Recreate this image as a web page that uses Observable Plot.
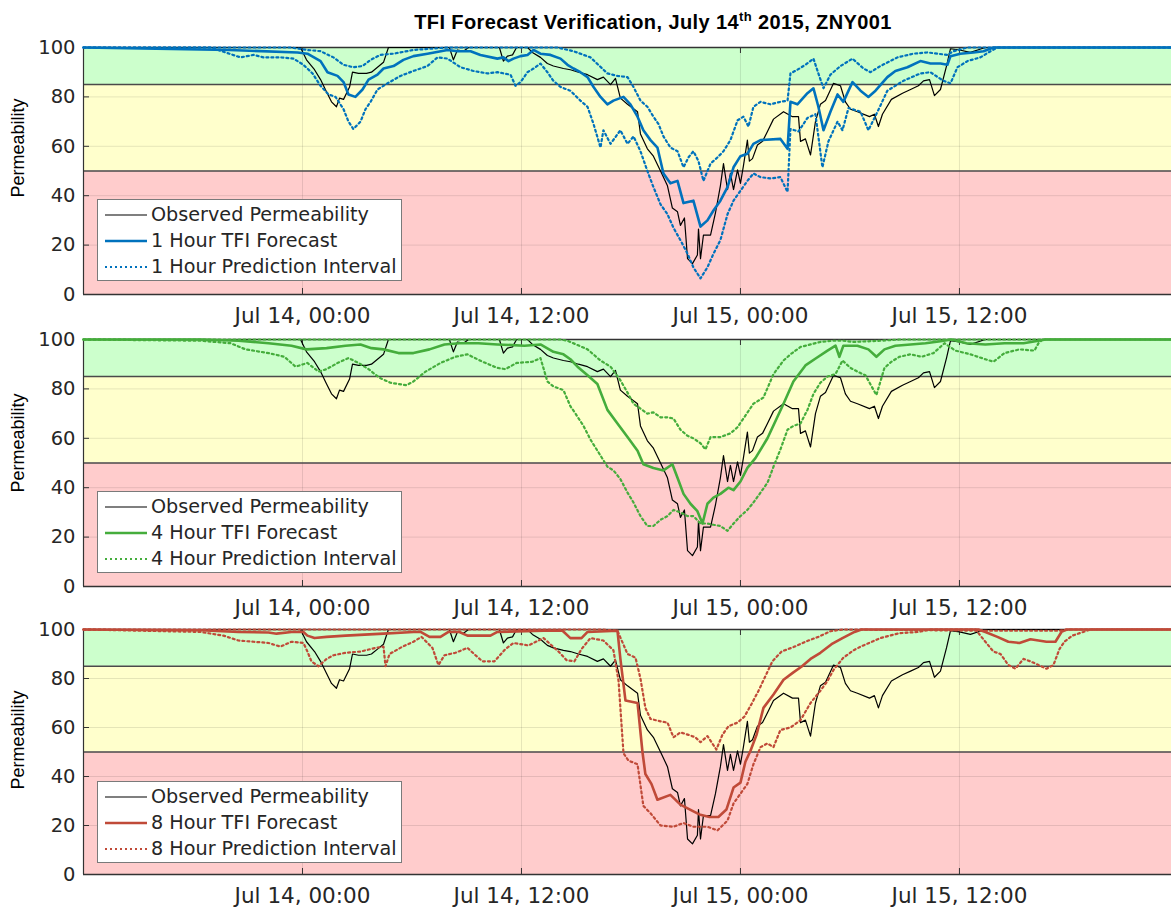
<!DOCTYPE html>
<html>
<head>
<meta charset="utf-8">
<script src="https://cdn.jsdelivr.net/npm/d3@7"></script>
<script src="https://cdn.jsdelivr.net/npm/@observablehq/plot@0.6"></script>
<style>
  html, body { margin: 0; padding: 0; background: #fff; }
  #root { position: relative; width: 1171px; height: 907px; overflow: hidden; background: #fff; }
  #title { position: absolute; top: 11px; left: 653px; transform: translateX(-50%); white-space: nowrap;
    font-family: "Liberation Sans", Arial, sans-serif; font-weight: bold; font-size: 20px; color: #000; letter-spacing: 0.4px; }
  #title sup { font-size: 13px; vertical-align: 0; position: relative; top: -8px; }
  .panel { position: absolute; left: 0; }
  .ylab { position: absolute; left: 18px; transform: translate(-50%, -50%) rotate(-90deg); white-space: nowrap;
    font-family: "Liberation Sans", Arial, sans-serif; font-size: 18px; color: #000; }
  .legend { position: absolute; left: 97px; width: 303px; height: 80px; background: #fff; border: 1px solid #7a7a7a;
    font-family: "DejaVu Sans", sans-serif; font-size: 19.2px; color: #262626; }
  .legend .row { position: absolute; left: 0; height: 26px; line-height: 26px; white-space: nowrap; }
  .legend svg { position: absolute; left: 6px; top: 0; }
  .legend span { position: absolute; left: 53px; top: 0; }
</style>
</head>
<body>
<div id="root">
  <div id="title">TFI Forecast Verification, July 14<sup>th</sup> 2015, ZNY001</div>
</div>
<script>
// ---------- DATA (hours relative to Jul 14 2015 00:00, permeability %) ----------
const xTickHours = [0, 12, 24, 36];
const yTicks = [0, 20, 40, 60, 80, 100];
const thresholds = [50, 85];
const zoneLow = [0, 50, 85];
const zoneHigh = [50, 85, 100];
const zoneColors = ["#ffcccc", "#ffffcc", "#ccffcc"];
const horizons = ["1", "4", "8"];
const seriesColors = ["#0072bd", "#45ad3c", "#c04a38"];

const observed = [[-12,100],[-0.11,100],[0.22,95],[0.66,91],[0.99,87],[1.32,82],[1.59,78],[1.86,76],[2.03,79.5],[2.25,79],[2.58,84],[2.74,90],[3.07,89.5],[3.51,89.5],[3.78,90],[4.11,92],[4.44,94],[4.71,100],[8.05,100],[8.27,95],[8.49,99],[8.82,98.5],[9.10,100],[10.79,100],[11.01,94.5],[11.23,96.5],[11.51,97],[11.73,100],[12.33,100],[12.60,98],[13.04,96],[13.42,93.5],[13.75,92.5],[14.30,91.5],[14.68,91],[15.12,90],[15.62,89],[16.16,87],[16.49,88],[16.88,85],[17.15,87.5],[17.42,79.5],[17.81,77],[18.36,74],[18.52,65],[18.90,59],[19.23,56],[19.62,50],[20.00,44],[20.27,35],[20.55,33.5],[20.71,28],[20.93,31],[21.10,14.5],[21.37,12.5],[21.64,16],[21.70,26.5],[21.81,14.5],[21.97,24],[22.36,24],[22.63,33],[22.90,44],[23.07,53],[23.29,42.5],[23.45,49],[23.62,42.5],[23.84,50.5],[24.00,45],[24.16,52],[24.38,62.5],[24.49,54],[24.66,55],[24.93,60.5],[25.21,62],[25.48,66],[25.81,71],[26.36,74],[26.85,72],[27.18,72],[27.29,62],[27.56,63],[27.84,56.5],[28.11,70],[28.38,77],[28.66,78.5],[29.10,85.5],[29.48,84.5],[29.75,78],[30.03,75],[30.41,74],[31.07,72],[31.34,73],[31.56,68],[31.78,73],[32.27,79],[32.88,81.5],[33.32,83],[33.75,84.5],[34.03,86.5],[34.36,87],[34.63,80.5],[34.96,83],[35.29,92.5],[35.51,99.5],[36.00,99],[36.60,98],[37.21,99.5],[37.42,100],[47.62,100]];

const forecast1 = [[-12,100],[-4.0,99],[-0.27,98],[0.27,97.5],[0.99,94.5],[1.37,90],[1.92,88.5],[2.25,86],[2.52,81],[2.90,80],[3.29,83],[3.62,87],[4.11,89],[4.44,91.5],[4.99,92.5],[5.53,95],[6.08,96.5],[6.85,97.5],[7.95,99],[8.49,98.5],[9.21,98.5],[9.75,97],[10.68,95.5],[11.01,96],[11.29,94.5],[11.56,95.5],[11.95,96.5],[12.33,97],[12.66,99],[13.04,97.5],[13.59,97],[14.14,95.5],[14.52,93],[14.85,91.5],[15.23,90],[15.62,88],[15.95,84],[16.33,80],[16.71,77],[17.04,78.5],[17.59,80],[17.97,77],[18.36,72],[18.68,66.5],[19.07,62.5],[19.45,59.5],[19.78,49],[20.16,45],[20.55,46],[20.88,37],[21.42,38],[21.81,27.5],[22.19,30],[22.52,34],[22.90,38],[23.29,43.5],[23.62,51.5],[24.00,56],[24.38,57],[24.71,61],[25.10,62.5],[26.19,63],[26.58,59],[26.74,78],[27.12,77],[27.67,81.5],[28.00,83.5],[28.27,76],[28.55,66.5],[28.93,74],[29.32,81],[29.64,78],[30.14,86],[30.58,82.5],[31.01,80],[31.40,82.5],[32.05,88],[32.49,90.5],[33.15,92],[33.86,94.5],[34.41,93.5],[34.96,93.5],[35.34,93],[35.51,96.5],[36.05,97.5],[36.77,98],[37.32,98.5],[37.86,100],[47.62,100]];
const upper1 = [[-12,100],[-0.66,100],[0.27,99],[0.99,98.5],[1.70,96],[2.25,93],[2.79,92],[3.29,92.5],[3.73,95],[4.27,97],[4.99,97.5],[6.08,99],[7.95,100],[13.97,100],[14.85,98.5],[15.78,96],[16.71,89.5],[17.26,88.5],[17.81,88],[18.14,84],[18.52,78.5],[18.90,76],[19.23,72],[19.51,69],[19.78,64],[20.16,59.5],[20.55,58],[20.88,51.5],[21.15,55.5],[21.42,58],[21.70,54],[21.97,46],[22.36,53],[22.74,55.5],[23.07,58],[23.45,62.5],[23.84,70.5],[24.16,72],[24.44,68],[24.71,76],[25.10,78],[25.64,77],[26.19,78],[26.58,78.5],[26.74,89.5],[27.12,91],[27.56,93],[28.00,95.5],[28.27,89.5],[28.55,83.5],[28.93,89],[29.48,92.5],[30.14,95.5],[30.74,91.5],[31.12,90],[31.67,92.5],[32.60,96],[33.48,97.5],[34.25,98],[35.34,97],[35.67,98.5],[36.44,100],[47.62,100]];
const lower1 = [[-12,100],[-5.04,100],[-3.40,96],[-2.68,97],[-2.14,96],[-1.21,96],[-0.49,95.5],[0.05,93],[0.55,89.5],[0.99,84.5],[1.42,81],[1.81,80],[2.25,75],[2.52,70],[2.79,67],[3.18,70],[3.45,75],[3.73,78],[4.11,83],[4.66,85.5],[5.37,88.5],[6.08,90.5],[6.85,92.5],[7.40,96],[7.95,95.5],[8.66,92],[9.37,90.5],[10.14,89.5],[10.68,90],[11.40,89],[11.67,84.5],[11.95,86],[12.33,90],[12.66,91.5],[13.04,93.5],[13.42,90],[13.75,86.5],[14.14,84],[14.68,82.5],[15.23,78.5],[15.62,76],[15.95,69],[16.33,59.5],[16.49,66.5],[16.88,61],[17.42,66.5],[17.81,61],[18.14,64],[18.52,58],[18.90,50],[19.23,43.5],[19.62,36.5],[20.00,32.5],[20.33,27],[20.71,22],[21.10,16.5],[21.42,11],[21.81,6.5],[22.19,11],[22.52,16.5],[22.90,22],[23.29,32.5],[23.62,38],[24.00,42],[24.38,46],[24.71,49],[25.10,47.5],[25.64,47],[26.19,47.5],[26.58,41.5],[26.74,67],[27.18,66],[27.67,71.5],[28.11,73],[28.49,51.5],[28.82,62],[29.32,70],[29.59,66.5],[29.92,75.5],[30.58,74],[31.01,66.5],[31.51,74],[32.05,82.5],[32.93,86.5],[33.86,89.5],[34.41,90],[35.12,86.5],[35.51,85.5],[35.89,92],[36.44,94.5],[37.15,96],[37.70,98.5],[38.08,100],[47.62,100]];

const forecast4 = [[-12,100],[-5.59,100],[-3.51,99.5],[-1.86,98.5],[-0.60,97.5],[0.22,96],[1.32,96.5],[2.36,97.5],[3.18,98],[3.78,96.5],[4.44,96],[5.26,94.5],[6.08,94.5],[6.96,96],[7.78,98],[8.60,98.5],[9.64,98.5],[10.68,98],[12.16,97.5],[13.04,98],[13.75,95],[14.30,94],[14.68,92],[15.07,89],[15.62,85.5],[16.16,82],[16.71,71.5],[17.26,66],[17.81,60.5],[18.36,55],[18.68,49.5],[19.23,48],[19.78,47],[20.27,49.5],[20.55,44],[20.88,37.5],[21.26,33.5],[21.64,30.5],[21.92,25.5],[22.19,33.5],[22.52,36],[22.90,37.5],[23.34,40],[23.62,39],[24.00,42.5],[24.38,48],[24.82,52],[25.48,60],[26.36,74],[26.90,83],[27.56,89.5],[28.16,92.5],[28.77,95.5],[29.21,97.5],[29.42,93],[29.64,97.5],[30.41,97.5],[31.01,96],[31.45,93],[31.89,96],[32.49,97.5],[33.32,98],[34.14,98.5],[34.96,99.3],[35.56,100],[36.38,98.5],[37.42,98],[38.47,98.5],[39.51,98.5],[40.33,99.5],[40.71,100],[47.62,100]];
const upper4 = [[-12,100],[14.14,100],[14.52,99.5],[15.62,96],[16.33,91.5],[16.88,89],[17.42,83.5],[17.81,78.5],[18.14,74],[18.52,72],[18.90,70],[19.23,70.5],[19.62,68.5],[20.00,68.5],[20.33,68],[20.71,63.5],[21.10,61],[21.42,60],[21.81,58],[22.08,55.5],[22.36,60.5],[22.90,60.5],[23.45,62],[23.84,64.5],[24.16,68],[24.71,74],[25.26,76.5],[25.81,86],[26.36,91.5],[26.74,94],[27.29,97],[27.84,98],[28.38,99],[29.10,99.5],[29.64,99.5],[30.19,99],[31.67,99.5],[32.71,100],[47.62,100]];
const lower4 = [[-12,100],[-5.59,99.5],[-3.95,98.5],[-3.12,96],[-1.86,94.5],[-0.99,93],[-0.38,89],[0.27,90.5],[0.88,87],[1.32,88],[1.92,90.5],[2.52,92.5],[3.07,90.5],[3.62,88],[4.22,84.5],[4.82,82.5],[5.70,81.5],[6.08,83],[6.74,87],[7.56,90.5],[8.38,93],[9.04,94],[9.86,91],[10.68,88.5],[11.12,88],[11.73,90.5],[12.60,91],[13.04,92.5],[13.42,83],[13.75,81],[14.30,79.5],[14.68,73],[14.96,70],[15.40,65],[15.78,59.5],[16.33,53],[16.71,48.5],[17.04,47],[17.42,43.5],[17.81,38],[18.14,34],[18.52,28.5],[18.90,24.5],[19.23,24.5],[19.62,27],[20.00,28.5],[20.33,31],[20.71,30],[21.10,28.5],[21.42,28.5],[21.81,25.5],[22.19,25.5],[22.52,25],[22.90,24.5],[23.29,22.5],[23.62,25.5],[24.00,28.5],[24.38,31],[24.71,34],[25.10,38],[25.48,42],[25.81,48.5],[26.19,55.5],[26.58,63.5],[26.90,65],[27.29,66],[27.67,71.5],[28.00,78],[28.38,82.5],[28.77,85],[29.21,86],[29.59,91.5],[30.03,88.5],[30.41,87],[30.85,85.5],[31.45,77.5],[31.89,88.5],[32.27,91],[32.71,93],[33.32,94],[33.92,93],[34.58,94.5],[35.18,98.5],[35.78,95.5],[36.60,94],[37.42,92],[37.86,91],[38.47,94.5],[39.29,96],[40.11,95.5],[40.33,98.5],[40.55,100],[47.62,100]];

const forecast8 = [[-12,100],[-5.59,99.7],[-3.51,99],[-1.86,98.8],[-1.42,98.3],[-0.60,99],[0.05,99],[0.27,97.5],[0.66,96.5],[1.32,97],[2.36,97.5],[4.44,98.3],[6.08,99],[6.47,99],[6.96,97],[7.56,97],[8.00,99],[8.60,99],[9.04,97.5],[10.30,97.5],[10.68,99],[13.21,99.5],[14.25,99.5],[14.68,96.5],[15.29,96.5],[15.62,99],[17.26,99.5],[17.42,88],[17.70,71],[18.36,70],[18.63,50],[18.79,41],[19.12,37],[19.45,30.5],[20.16,32.5],[20.71,28.5],[21.37,26],[21.75,24.5],[22.30,23.5],[22.79,23.5],[23.23,26.5],[23.62,35.5],[24.00,37.5],[24.27,46],[24.55,50.5],[24.88,57],[25.26,68],[25.81,73.5],[26.36,79.5],[26.90,82.5],[27.34,84.8],[27.84,88],[28.38,90.5],[28.99,94],[29.59,96.5],[30.25,99],[30.63,100],[37.04,100],[37.42,99],[38.08,97],[38.68,95],[39.29,94.5],[39.89,96],[40.77,95],[41.26,95],[41.59,99],[41.86,100],[47.62,100]];
const upper8 = [[-12,100],[16.33,100],[17.26,99.5],[17.81,90],[18.25,88.5],[18.52,80],[18.79,68],[19.07,63.5],[19.62,62.5],[20.00,62],[20.33,56],[20.71,58],[21.15,57],[21.53,56],[21.81,54],[22.19,56.5],[22.68,51],[23.01,57],[23.34,60.5],[23.84,62],[24.22,64.5],[24.60,69.5],[24.99,75],[25.37,81],[25.75,87],[26.25,91],[26.90,92.8],[27.62,95.2],[28.27,97],[28.93,99.3],[29.59,100],[37.42,99.5],[41.48,99.5],[42.08,100],[47.62,100]];
const lower8 = [[-12,100],[-5.59,99],[-4.33,97.5],[-3.51,95.5],[-2.68,95],[-1.86,94.5],[-1.21,93],[-0.60,95],[0.05,94.5],[0.27,91],[0.49,87],[0.88,85],[1.32,88],[1.70,89.5],[2.36,90.5],[3.18,91],[4.00,92.5],[4.44,93],[4.55,85],[4.77,90],[5.48,93],[6.08,95],[6.52,97],[7.12,92.5],[7.45,85.5],[7.78,89.5],[8.38,90.5],[9.04,92.5],[9.48,89.5],[9.86,87],[10.52,87],[11.12,92],[11.56,94.5],[12.38,93.5],[13.21,96.5],[14.03,91],[14.47,87.5],[14.90,87],[15.29,92],[15.78,96.5],[16.49,95.5],[17.04,91.5],[17.32,79],[17.59,49.5],[17.86,46.5],[18.36,45],[18.68,28],[19.07,25],[19.62,20],[20.33,19.5],[20.88,21],[21.42,19.5],[22.19,19.5],[22.74,18],[23.29,22],[23.62,29],[24.00,33],[24.38,37],[24.71,45],[25.10,52],[25.48,53.5],[25.81,52],[26.19,59],[26.74,60],[27.29,63],[27.84,70],[28.38,75],[28.77,79],[29.10,83.5],[29.64,88.5],[30.19,91.5],[30.58,93],[31.67,96.5],[32.71,98.5],[33.75,99],[34.41,100],[36.88,100],[37.42,95],[37.86,91],[38.25,90],[38.68,85.5],[39.07,84],[39.51,88],[39.89,87],[40.33,85.5],[40.77,84],[41.15,85.5],[41.48,92],[41.75,95],[42.19,97.5],[42.79,99],[43.18,100],[47.62,100]];

const xStartHour = -12, xEndHour = 47.62;

// ---------- LAYOUT ----------
const BASE = Date.UTC(2015, 6, 14, 0, 0);
const toDate = h => new Date(BASE + h * 3600e3);
const rows = pairs => pairs.map(([h, v]) => ({t: toDate(h), v}));
const zones = zoneLow.map((lo, i) => ({lo, hi: zoneHigh[i], fill: zoneColors[i]}));
const xTicks = xTickHours.map(toDate);
const fmt = d3.utcFormat("%b %d, %H:%M");

const panels = [
  {fc: forecast1, up: upper1, lo: lower1, top: 47, h: 247, lab: 101},
  {fc: forecast4, up: upper4, lo: lower4, top: 339, h: 247, lab: 104},
  {fc: forecast8, up: upper8, lo: lower8, top: 629, h: 245, lab: 111}
];
const W = 1171, ML = 83, MT = 10, MB = 44;
const root = document.getElementById("root");
const obsRows = rows(observed);
const DOT = "2,3";

panels.forEach((p, i) => {
  const color = seriesColors[i];
  const chart = Plot.plot({
    width: W, height: MT + p.h + MB,
    marginTop: MT, marginBottom: MB, marginLeft: ML, marginRight: 0,
    x: {type: "utc", domain: [toDate(xStartHour), toDate(xEndHour)]},
    y: {domain: [0, 100]},
    style: {fontFamily: "DejaVu Sans, sans-serif", fontSize: "19px", color: "#262626", background: "transparent", overflow: "visible"},
    marks: [
      Plot.rect(zones, {y1: "lo", y2: "hi", fill: "fill"}),
      Plot.gridX(xTicks, {stroke: "#000", strokeOpacity: 0.1}),
      Plot.gridY(yTicks.slice(1, -1), {stroke: "#000", strokeOpacity: 0.1}),
      Plot.ruleY(thresholds, {stroke: "#4a4a4a", strokeWidth: 1.4}),
      Plot.ruleY([0, 100], {stroke: "#333", strokeWidth: 1.4}),
      Plot.ruleX([toDate(xStartHour)], {stroke: "#333", strokeWidth: 1.2}),
      Plot.ruleY(yTicks, {insetRight: W - ML - 6, stroke: "#333"}),
      Plot.ruleX(xTicks, {insetTop: p.h - 6, stroke: "#333"}),
      Plot.ruleX(xTicks, {insetBottom: p.h - 6, stroke: "#333"}),
      Plot.axisX({ticks: xTicks, tickSize: 0, tickPadding: 13, tickFormat: fmt, label: null, fontSize: 21.5}),
      Plot.axisY({ticks: yTicks, tickSize: 0, tickPadding: 8, label: null, fontSize: 19.5}),
      Plot.line(obsRows, {x: "t", y: "v", stroke: "#000", strokeWidth: 1.2}),
      Plot.line(rows(p.fc), {x: "t", y: "v", stroke: color, strokeWidth: 2.6}),
      Plot.line(rows(p.up), {x: "t", y: "v", stroke: color, strokeWidth: 2.2, strokeDasharray: DOT}),
      Plot.line(rows(p.lo), {x: "t", y: "v", stroke: color, strokeWidth: 2.2, strokeDasharray: DOT})
    ]
  });
  const div = document.createElement("div");
  div.className = "panel";
  div.style.top = (p.top - MT) + "px";
  div.appendChild(chart);
  root.appendChild(div);

  const yl = document.createElement("div");
  yl.className = "ylab";
  yl.style.top = (p.top + p.lab) + "px";
  yl.textContent = "Permeability";
  root.appendChild(yl);

  const lg = document.createElement("div");
  lg.className = "legend";
  lg.style.top = (p.top + 152) + "px";
  const items = [
    {text: "Observed Permeability", stroke: "#000", w: 1.2, dash: null},
    {text: horizons[i] + " Hour TFI Forecast", stroke: color, w: 2.6, dash: null},
    {text: horizons[i] + " Hour Prediction Interval", stroke: color, w: 2.2, dash: DOT}
  ];
  items.forEach((it, k) => {
    const r = document.createElement("div");
    r.className = "row";
    r.style.top = (2 + k * 26) + "px";
    r.innerHTML = `<svg width="44" height="26"><line x1="1" x2="43" y1="13" y2="13" stroke="${it.stroke}" stroke-width="${it.w}" ${it.dash ? `stroke-dasharray="${it.dash}"` : ""}/></svg><span>${it.text}</span>`;
    lg.appendChild(r);
  });
  root.appendChild(lg);
});
</script>
</body>
</html>
